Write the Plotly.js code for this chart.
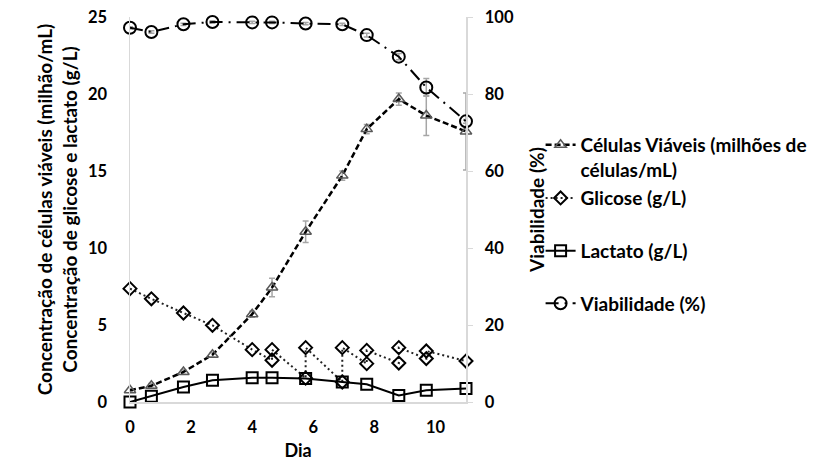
<!DOCTYPE html>
<html>
<head>
<meta charset="utf-8">
<script src="https://cdn.plot.ly/plotly-3.0.1.min.js"></script>
<style>html,body{margin:0;padding:0;background:#fff;}#chart{width:824px;height:464px;}</style>
</head>
<body>
<div id="chart"></div>
<script>
// Days of sampling
var days = [0, 0.7, 1.75, 2.7, 4.0, 4.65, 5.75, 6.95, 7.75, 8.8, 9.7, 11.0];
// Viable cells (million cells/mL)
var cells = [0.76, 1.05, 1.95, 3.07, 5.7, 7.43, 11.05, 14.7, 17.72, 19.67, 18.6, 17.57];
var cellsErr = [0.1, 0.15, 0.15, 0.15, 0.2, 0.6, 0.7, 0.3, 0.3, 0.4, 1.3, 2.5];
// Lactate (g/L)
var lactate = [0, 0.37, 0.97, 1.41, 1.58, 1.58, 1.52, 1.30, 1.15, 0.43, 0.76, 0.87];
// Viability (%)
var viability = [97.2, 96.1, 98.1, 98.7, 98.6, 98.6, 98.3, 98.1, 95.3, 89.7, 81.7, 72.9];
var viabilityErr = [0.3, 0.3, 0.3, 0.3, 0.3, 0.3, 0.3, 0.3, 0.5, 0.8, 2.3, 0.5];
// Glucose (g/L) - before/after feeding
var glcDays = [0, 0.7, 1.75, 2.7, 4.0, 4.65, 4.65, 5.75, 5.75, 6.95, 6.95, 7.75, 7.75, 8.8, 8.8, 9.7, 9.7, 11.0];
var glucose = [7.36, 6.7, 5.78, 4.98, 3.40, 2.71, 3.40, 1.55, 3.53, 1.30, 3.53, 2.49, 3.35, 2.53, 3.53, 2.82, 3.31, 2.66];

var names = ['Células Viáveis (milhões de<br>células/mL)', 'Glicose (g/L)', 'Lactato (g/L)', 'Viabilidade (%)'];
var xTicks = [0, 2, 4, 6, 8, 10];
var yTicks = [0, 5, 10, 15, 20, 25];
var y2Ticks = [0, 20, 40, 60, 80, 100];

var FONT = 'Lato, "Open Sans", sans-serif';
var errColor = '#a6a6a6';
var LEGFS = 19;
var TITFS = 19;
var TICKFS = 16.5;

var traces = [
  {
    x: days, y: cells, name: names[0], type: 'scatter', mode: 'lines+markers',
    legend: 'legend', cliponaxis: false,
    line: {color: '#000', width: 2.5, dash: '6px,3px'},
    marker: {symbol: 'triangle-up-open', size: 10, color: '#595959', line: {width: 1.5, color: '#595959'}},
    error_y: {type: 'data', array: cellsErr, visible: true, color: errColor, thickness: 1.5, width: 3}
  },
  {
    x: glcDays, y: glucose, name: names[1], type: 'scatter', mode: 'lines+markers',
    legend: 'legend2', legendgroup: 'b', cliponaxis: false,
    line: {color: '#222', width: 2, dash: '2px,3px'},
    marker: {symbol: 'diamond-open', size: 10, color: '#000', line: {width: 2, color: '#000'}}
  },
  {
    x: days, y: lactate, name: names[2], type: 'scatter', mode: 'lines+markers',
    legend: 'legend2', legendgroup: 'c', cliponaxis: false,
    line: {color: '#000', width: 2},
    marker: {symbol: 'square-open', size: 11, color: '#000', line: {width: 2, color: '#000'}}
  },
  {
    x: days, y: viability, name: names[3], type: 'scatter', mode: 'lines+markers', yaxis: 'y2',
    legend: 'legend2', legendgroup: 'd', cliponaxis: false,
    line: {color: '#000', width: 2, dash: '13px,6px,2px,6px'},
    marker: {symbol: 'circle-open', size: 12, color: '#000', line: {width: 2, color: '#000'}},
    error_y: {type: 'data', array: viabilityErr, visible: true, color: errColor, thickness: 1.5, width: 3}
  }
];

var legFont = {family: FONT, size: LEGFS, color: '#000', weight: 'bold'};

var layout = {
  width: 824, height: 464,
  margin: {l: 130, r: 355, t: 17, b: 62},
  paper_bgcolor: '#fff', plot_bgcolor: '#fff',
  font: {family: FONT, size: TICKFS, color: '#000', weight: 'bold'},
  showlegend: true,
  legend: {
    x: 1.222, y: 0.717, xanchor: 'left', yanchor: 'top',
    valign: 'top', font: legFont, bgcolor: 'rgba(0,0,0,0)'
  },
  legend2: {
    x: 1.222, y: 0.579, xanchor: 'left', yanchor: 'top',
    valign: 'top', tracegroupgap: 25, traceorder: 'grouped',
    font: legFont, bgcolor: 'rgba(0,0,0,0)'
  },
  xaxis: {
    range: [0, 11], tickvals: xTicks, ticktext: xTicks.map(String),
    showline: true, linecolor: '#d9d9d9', linewidth: 1.5,
    showgrid: false, zeroline: false, ticks: '',
    ticklabelstandoff: 10,
    tickfont: {family: FONT, size: TICKFS, weight: 'bold'},
    title: {text: 'Dia', standoff: 8, font: {family: FONT, size: 18, weight: 'bold'}}
  },
  yaxis: {
    range: [0, 25], tickvals: yTicks, ticktext: yTicks.map(String),
    showline: true, linecolor: '#d9d9d9', linewidth: 1.5,
    showgrid: false, zeroline: false, ticks: '',
    ticklabelstandoff: 18,
    tickfont: {family: FONT, size: TICKFS, weight: 'bold'},
    title: {text: 'Concentração de células viáveis (milhão/mL)<br>Concentração de glicose e lactato (g/L)', standoff: 5,
            font: {family: FONT, size: TITFS, weight: 'bold'}}
  },
  yaxis2: {
    overlaying: 'y', side: 'right', anchor: 'x',
    range: [0, 100], tickvals: y2Ticks, ticktext: y2Ticks.map(String),
    showline: true, linecolor: '#d9d9d9', linewidth: 1.5,
    showgrid: false, zeroline: false, ticks: 'outside', ticklen: 5, tickcolor: '#d9d9d9',
    ticklabelstandoff: 9,
    tickfont: {family: FONT, size: TICKFS, weight: 'bold'},
    title: {text: 'Viabilidade (%)', standoff: 18, font: {family: FONT, size: TITFS, weight: 'bold'}}
  }
};

Plotly.newPlot('chart', traces, layout, {displayModeBar: false, staticPlot: true});
</script>
</body>
</html>
